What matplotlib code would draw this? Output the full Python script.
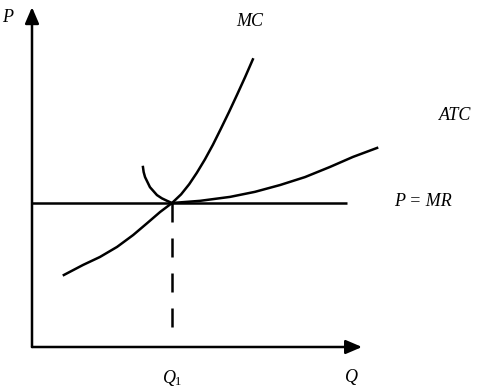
import matplotlib
matplotlib.use('Agg')
import matplotlib.pyplot as plt

# curve points (Q, P)
mc_q = [0.91, 1.46, 1.94, 2.43, 2.89, 3.29, 3.66, 4.0, 4.26, 4.49, 4.71, 4.94,
        5.17, 5.4, 5.63, 5.86, 6.09, 6.31]
mc_p = [2.0, 2.28, 2.5, 2.78, 3.11, 3.44, 3.75, 4.0, 4.24, 4.52, 4.84, 5.21,
        5.62, 6.07, 6.53, 7.01, 7.5, 7.99]

atc_q = [3.17, 3.19, 3.23, 3.3, 3.37, 3.47, 3.57, 3.71, 3.86, 4.0, 4.8, 5.66,
         6.37, 7.09, 7.8, 8.51, 9.17, 9.86]
atc_p = [5.0, 4.86, 4.72, 4.58, 4.44, 4.33, 4.22, 4.13, 4.06, 4.0, 4.06, 4.17,
         4.31, 4.5, 4.72, 5.0, 5.28, 5.53]

mr_q = [0.0, 9.0]
mr_p = [4.0, 4.0]

q1 = 4.0
p1 = 4.0
q_max = 9.43
p_max = 9.44

plt.rcParams['mathtext.fontset'] = 'custom'
plt.rcParams['mathtext.it'] = 'Liberation Serif:italic'
plt.rcParams['mathtext.rm'] = 'Liberation Serif'

fig = plt.figure(figsize=(5, 3.88), dpi=100)
ax = fig.add_axes([0, 0, 1, 1])
ax.set_xlim(-32 / 35, 468 / 35)
ax.set_ylim(-41 / 36, 347 / 36)
ax.axis('off')

lw = 1.8
# axes with arrow heads
arrow = dict(arrowstyle='-|>,head_length=0.7,head_width=0.3', color='black', lw=lw,
             shrinkA=0, shrinkB=0, mutation_scale=14)
ax.annotate('', xy=(0, p_max), xytext=(0, 0), arrowprops=arrow)
ax.annotate('', xy=(q_max, 0), xytext=(0, 0), arrowprops=arrow)

ax.plot(mc_q, mc_p, color='black', lw=lw, solid_joinstyle='round')
ax.plot(atc_q, atc_p, color='black', lw=lw, solid_joinstyle='round')
ax.plot(mr_q, mr_p, color='black', lw=lw, solid_capstyle='butt')
ax.plot([q1, q1], [p1, 0.53], color='black', lw=lw, linestyle=(0, (7.6, 6.4)))

font = dict(family='Liberation Serif', style='italic', size=13, ha='center', va='center')
ax.text(-0.69, 9.14, 'P', **font)
ax.text(6.23, 9.03, 'MC', **font)
ax.text(12.09, 6.44, 'ATC', **font)
ax.text(11.17, 4.03, 'P = MR', **font)
ax.text(q1, -0.86, r'$Q_1$', family='Liberation Serif', size=13, ha='center', va='center')
ax.text(9.14, -0.86, 'Q', **font)

fig.savefig('out.png', dpi=100)
